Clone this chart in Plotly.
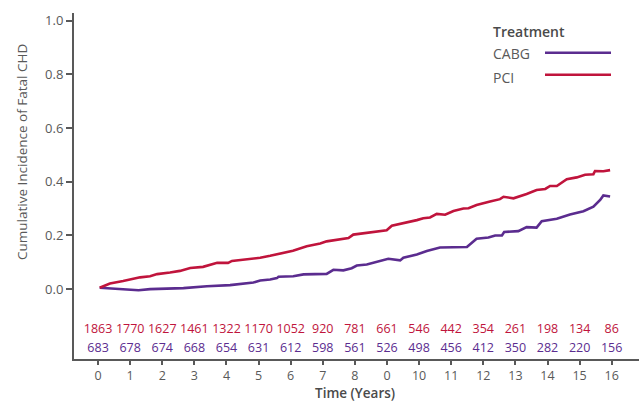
import plotly.graph_objects as go

# ---- data ----
pci_t = [0.05, 0.37, 0.78, 1.31, 1.62, 1.84, 2.24, 2.55, 2.87, 3.27, 3.71, 4.05, 4.17, 4.64,
         5.05, 5.36, 5.57, 6.07, 6.50, 6.92, 7.12, 7.80, 7.95, 8.58, 8.99, 9.15, 9.31, 9.62,
         9.93, 10.13, 10.34, 10.55, 10.81, 11.07, 11.38, 11.54, 11.79, 12.21, 12.52, 12.63,
         12.94, 13.35, 13.66, 13.93, 14.08, 14.29, 14.60, 14.91, 15.17, 15.43, 15.48, 15.74, 15.95]
pci_v = [0.005, 0.021, 0.030, 0.044, 0.048, 0.056, 0.062, 0.068, 0.079, 0.083, 0.098, 0.098, 0.105, 0.110,
         0.117, 0.124, 0.130, 0.143, 0.160, 0.170, 0.178, 0.190, 0.203, 0.213, 0.219, 0.236, 0.240, 0.250,
         0.257, 0.264, 0.267, 0.280, 0.277, 0.291, 0.300, 0.301, 0.313, 0.326, 0.335, 0.344,
         0.338, 0.354, 0.369, 0.373, 0.384, 0.384, 0.409, 0.416, 0.426, 0.428, 0.440, 0.439, 0.443]

cabg_t = [0.05, 0.58, 1.26, 1.62, 2.66, 3.39, 4.11, 4.84, 5.05, 5.36, 5.57, 5.62, 6.08, 6.40,
          7.12, 7.33, 7.64, 7.90, 8.06, 8.37, 8.68, 9.04, 9.41, 9.51, 9.93, 10.24, 10.65,
          11.49, 11.79, 12.16, 12.37, 12.58, 12.65, 13.09, 13.35, 13.66, 13.82, 14.29, 14.70,
          15.12, 15.43, 15.64, 15.74, 15.95]
cabg_v = [0.005, 0.001, -0.004, 0.000, 0.004, 0.011, 0.015, 0.025, 0.032, 0.036, 0.041, 0.046, 0.048, 0.055,
          0.057, 0.072, 0.070, 0.078, 0.088, 0.092, 0.101, 0.113, 0.107, 0.117, 0.129, 0.142, 0.155,
          0.157, 0.188, 0.192, 0.200, 0.200, 0.213, 0.216, 0.231, 0.229, 0.253, 0.262, 0.278,
          0.290, 0.307, 0.332, 0.349, 0.345]

risk_years = list(range(17))
pci_risk = [1863, 1770, 1627, 1461, 1322, 1170, 1052, 920, 781, 661, 546, 442, 354, 261, 198, 134, 86]
cabg_risk = [683, 678, 674, 668, 654, 631, 612, 598, 561, 526, 498, 456, 412, 350, 282, 220, 156]

x_tickvals = list(range(17))
x_ticktext = ["0", "1", "2", "3", "4", "5", "6", "7", "8", "0", "10", "11", "12", "13", "14", "15", "16"]
y_tickvals = [0.0, 0.2, 0.4, 0.6, 0.8, 1.0]
y_ticktext = ["0.0", "0.2", "0.4", "0.6", "0.8", "1.0"]

# ---- style ----
PURPLE = "#5b2c8f"
RED = "#c0143c"
GRAY = "#595959"
DARK = "#4a4a4a"
FONT = "Open Sans"

W, H = 639, 403
L, R, T, B = 74, 0, 13, 44
pw, ph = W - L - R, H - T - B


def px(x):
    return (x - L) / pw


def py(y):
    return (H - B - y) / ph


fig = go.Figure()
fig.add_trace(go.Scatter(x=cabg_t, y=cabg_v, mode="lines", line=dict(color=PURPLE, width=2.6),
                         showlegend=False, hoverinfo="skip"))
fig.add_trace(go.Scatter(x=pci_t, y=pci_v, mode="lines", line=dict(color=RED, width=2.6),
                         showlegend=False, hoverinfo="skip"))

# risk table
fig.add_trace(go.Scatter(x=risk_years, y=[-0.153] * len(risk_years), mode="text",
                         text=[str(v) for v in pci_risk],
                         textfont=dict(family=FONT, size=12.5, color=RED),
                         textposition="middle center", showlegend=False, hoverinfo="skip"))
fig.add_trace(go.Scatter(x=risk_years, y=[-0.223] * len(risk_years), mode="text",
                         text=[str(v) for v in cabg_risk],
                         textfont=dict(family=FONT, size=12.5, color=PURPLE),
                         textposition="middle center", showlegend=False, hoverinfo="skip"))

annotations = [
    dict(text="Cumulative Incidence of Fatal CHD", x=px(22), y=py(152), xref="paper", yref="paper",
         showarrow=False, textangle=-90, font=dict(family=FONT, size=13.5, color=GRAY),
         xanchor="center", yanchor="middle"),
    dict(text="Time (Years)", x=px(355), y=py(403), xref="paper", yref="paper",
         showarrow=False, font=dict(family=FONT, size=13.5, color=DARK, weight=600),
         xanchor="center", yanchor="bottom", borderpad=0),
    dict(text="Treatment", x=px(491), y=py(32), xref="paper", yref="paper",
         showarrow=False, font=dict(family=FONT, size=14, color=DARK, weight=600),
         xanchor="left", yanchor="middle"),
    dict(text="CABG", x=px(491), y=py(54), xref="paper", yref="paper",
         showarrow=False, font=dict(family=FONT, size=14, color=GRAY),
         xanchor="left", yanchor="middle"),
    dict(text="PCI", x=px(491), y=py(77), xref="paper", yref="paper",
         showarrow=False, font=dict(family=FONT, size=14, color=GRAY),
         xanchor="left", yanchor="middle"),
]

shapes = [
    dict(type="line", xref="paper", yref="paper", x0=px(545), x1=px(611), y0=py(52.7), y1=py(52.7),
         line=dict(color=PURPLE, width=2.6)),
    dict(type="line", xref="paper", yref="paper", x0=px(545), x1=px(611), y0=py(74.7), y1=py(74.7),
         line=dict(color=RED, width=2.6)),
]

fig.update_layout(
    width=W, height=H,
    margin=dict(l=L, r=R, t=T, b=B),
    paper_bgcolor="white", plot_bgcolor="white",
    font=dict(family=FONT, size=13, color=GRAY),
    annotations=annotations, shapes=shapes,
    xaxis=dict(range=[-0.75, 16.85], tickvals=x_tickvals, ticktext=x_ticktext,
               showgrid=False, zeroline=False, showline=True, linecolor=GRAY, linewidth=2,
               ticks="outside", ticklen=4, tickwidth=1.5, tickcolor=GRAY,
               tickfont=dict(family=FONT, size=12.5, color=GRAY)),
    yaxis=dict(range=[-0.26, 1.028], tickvals=y_tickvals, ticktext=y_ticktext,
               showgrid=False, zeroline=False, showline=True, linecolor=GRAY, linewidth=2,
               ticks="outside", ticklen=6, tickwidth=1.5, tickcolor=GRAY,
               tickfont=dict(family=FONT, size=13, color=GRAY)),
)

fig.write_html("out.html")
